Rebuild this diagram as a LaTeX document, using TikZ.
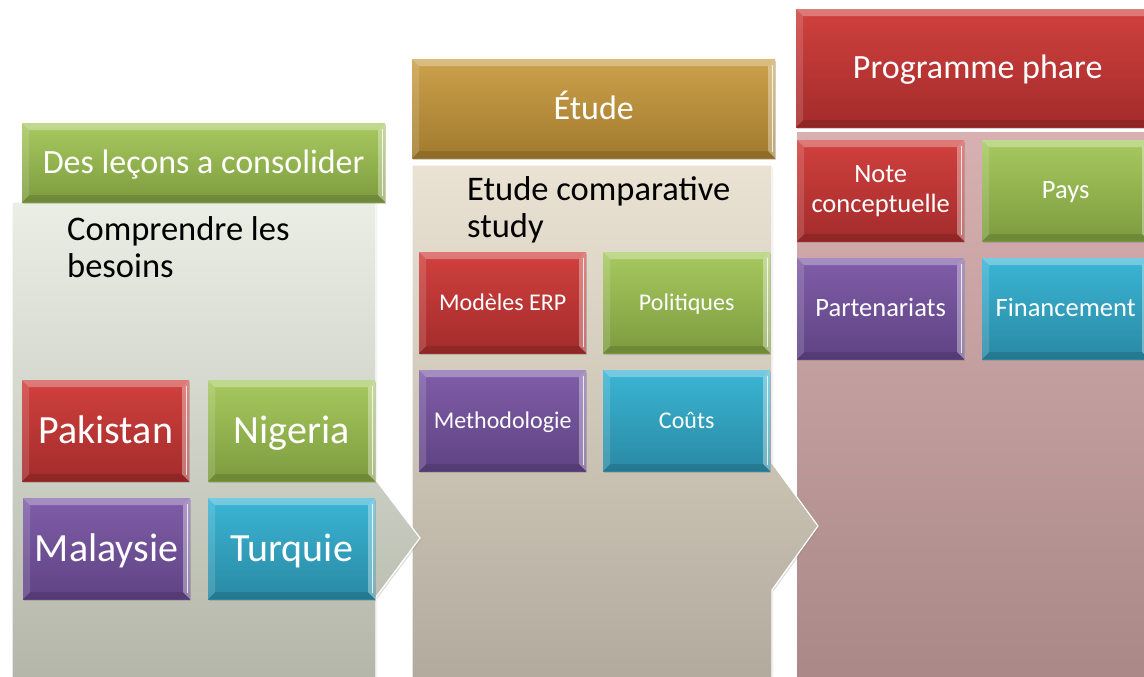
\documentclass[tikz,border=0pt]{standalone}
\usepackage{fontspec}
\setmainfont{Carlito}
\usetikzlibrary{shadows}
\definecolor{greenTop}{HTML}{A7C95F}
\definecolor{greenBot}{HTML}{7D9B3F}
\definecolor{redTop}{HTML}{D0413E}
\definecolor{redBot}{HTML}{A32B2B}
\definecolor{purpleTop}{HTML}{7F5DA8}
\definecolor{purpleBot}{HTML}{5F4383}
\definecolor{cyanTop}{HTML}{3AB5D5}
\definecolor{cyanBot}{HTML}{2A89A3}
\definecolor{goldTop}{HTML}{CBA14B}
\definecolor{goldBot}{HTML}{A27A2D}
\definecolor{paneAtop}{HTML}{EAEEE5}
\definecolor{paneAbot}{HTML}{B3B6A8}
\definecolor{paneBtop}{HTML}{EAE2D2}
\definecolor{paneBbot}{HTML}{B2AB9D}
\definecolor{paneCtop}{HTML}{D8B0B2}
\definecolor{paneCbot}{HTML}{A98887}

\begin{document}
\begin{tikzpicture}[x=1pt,y=-1pt,
  bevel/.style={path picture={
    \fill[white,opacity=.30] (path picture bounding box.north west) -- (path picture bounding box.north east)
      -- ([xshift=-7pt,yshift=-7pt]path picture bounding box.north east) -- ([xshift=7pt,yshift=-7pt]path picture bounding box.north west) -- cycle;
    \fill[white,opacity=.14] (path picture bounding box.north west) -- ([xshift=7pt,yshift=-7pt]path picture bounding box.north west)
      -- ([xshift=7pt,yshift=7pt]path picture bounding box.south west) -- (path picture bounding box.south west) -- cycle;
    \fill[black,opacity=.12] (path picture bounding box.south west) -- ([xshift=7pt,yshift=7pt]path picture bounding box.south west)
      -- ([xshift=-7pt,yshift=7pt]path picture bounding box.south east) -- (path picture bounding box.south east) -- cycle;
    \fill[white,opacity=.35] ([xshift=-7pt,yshift=-7pt]path picture bounding box.north east) -- (path picture bounding box.north east)
      -- (path picture bounding box.south east) -- ([xshift=-7pt,yshift=7pt]path picture bounding box.south east) -- cycle;
    \draw[white,opacity=.8,line width=1.5pt] ([xshift=-2.5pt,yshift=-6pt]path picture bounding box.north east) -- ([xshift=-2.5pt,yshift=6pt]path picture bounding box.south east);
  }},
  block/.style={anchor=north west,inner sep=0pt,text=white,align=center,bevel,
    drop shadow={shadow xshift=1pt,shadow yshift=-2pt,opacity=.35}},
  tile/.style={block,minimum width=167pt,minimum height=101pt},
  sized/.style={font=\fontsize{#1}{#1}\selectfont,text height=.84*#1pt,text depth=.22*#1pt},
  head/.style={block,sized=34,minimum width=363pt},
  green/.style={top color=greenTop,bottom color=greenBot},
  red/.style={top color=redTop,bottom color=redBot},
  purple/.style={top color=purpleTop,bottom color=purpleBot},
  cyan/.style={top color=cyanTop,bottom color=cyanBot},
  gold/.style={top color=goldTop,bottom color=goldBot},
  pane/.style={draw=white,line width=1.2pt,drop shadow={shadow xshift=1pt,shadow yshift=-2pt,opacity=.25}},
  paneText/.style={anchor=north west,inner sep=0pt,align=left,text=black,font=\fontsize{34.5}{37.5}\selectfont}]
\useasboundingbox (0,0) rectangle (1144,677);
\clip (0,0) rectangle (1144,677);

% panels, right to left so that each chevron lies on the next panel
\path[pane,top color=paneCtop,bottom color=paneCbot] (796,131) -- (1160,131) -- (1160,680) -- (796,680) -- cycle;
\path[pane,top color=paneBtop,bottom color=paneBbot] (412,165) -- (772,165) -- (772,463) -- (818,526) -- (772,590) -- (772,680) -- (412,680) -- cycle;
\path[pane,top color=paneAtop,bottom color=paneAbot] (12,202) -- (376,202) -- (376,480) -- (420,538) -- (376,597) -- (376,680) -- (12,680) -- cycle;

% headers
\node[head,green,minimum height=79pt] (hdLessons) at (22,123) {Des leçons a consolider};
\node[head,gold,minimum height=99pt] (hdStudy) at (412,59) {Étude};
\node[head,red,minimum height=118pt] (hdProgram) at (796,9) {Programme phare};

% panel texts
\node[paneText] (txNeeds) at (67,216) {Comprendre les\\besoins};
\node[paneText] (txCompare) at (467,176) {Etude comparative\\study};

% first panel
\begin{scope}[sized=40]
\node[tile,red] (tPakistan) at (22,380) {Pakistan};
\node[tile,green] (tNigeria) at (208,380) {Nigeria};
\node[tile,purple] (tMalaysia) at (23,498) {Malaysie};
\node[tile,cyan] (tTurkey) at (208,498) {Turquie};
\end{scope}

% second panel
\begin{scope}[sized=24]
\node[tile,red] (tModels) at (419,252) {Modèles ERP};
\node[tile,green] (tPolicies) at (603,252) {Politiques};
\node[tile,purple] (tMethod) at (419,370) {Methodologie};
\node[tile,cyan] (tCosts) at (603,370) {Coûts};
\end{scope}

% third panel
\node[tile,red,font=\fontsize{26.5}{30}\selectfont] (tNote) at (797,140) {Note\\conceptuelle};
\node[tile,green,sized=26.5] (tCountry) at (982,140) {Pays};
\node[tile,purple,sized=26.5] (tPartner) at (797,258) {Partenariats};
\node[tile,cyan,sized=26.5] (tFunding) at (982,258) {Financement};
\end{tikzpicture}
\end{document}
